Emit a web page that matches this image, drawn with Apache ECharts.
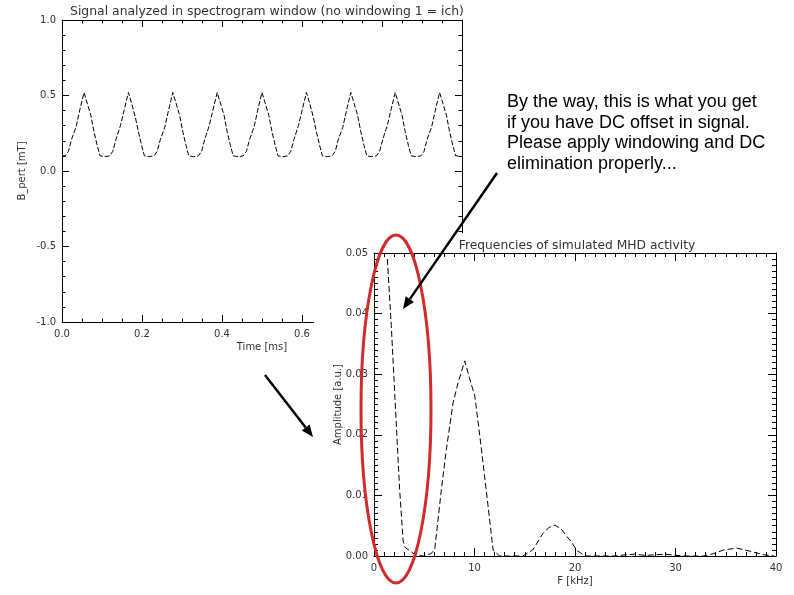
<!DOCTYPE html>
<html>
<head>
<meta charset="utf-8">
<script src="https://cdn.jsdelivr.net/npm/echarts@6/dist/echarts.min.js"></script>
<style>
  html, body { margin: 0; padding: 0; background: #fff; }
  #top, #overlay { position: absolute; left: 0; top: 0; width: 794px; height: 595px; }
  #bottom { position: absolute; left: 314px; top: 233px; width: 480px; height: 362px; background: #fff; }
</style>
</head>
<body>
<div id="top"></div>
<div id="bottom"></div>
<div id="overlay"></div>
<script>
// signal in the spectrogram window
const timeMs = [
  0.000, 0.008, 0.016, 0.024, 0.035, 0.045, 0.055, 0.063, 0.072, 0.080, 0.088, 0.095, 0.107,
  0.119, 0.127, 0.135, 0.146, 0.156, 0.166, 0.174, 0.183, 0.191, 0.199, 0.206, 0.218,
  0.230, 0.238, 0.246, 0.257, 0.267, 0.277, 0.285, 0.294, 0.302, 0.310, 0.317, 0.329,
  0.341, 0.349, 0.357, 0.368, 0.378, 0.388, 0.396, 0.405, 0.413, 0.421, 0.428, 0.440,
  0.453, 0.461, 0.469, 0.480, 0.490, 0.500, 0.508, 0.517, 0.525, 0.533, 0.540, 0.552,
  0.564, 0.572, 0.580, 0.591, 0.601, 0.611, 0.619, 0.628, 0.636, 0.644, 0.651, 0.663,
  0.675, 0.683, 0.691, 0.702, 0.712, 0.722, 0.730, 0.739, 0.747, 0.755, 0.762, 0.774,
  0.786, 0.794, 0.802, 0.813, 0.823, 0.833, 0.841, 0.850, 0.858, 0.866, 0.873, 0.885,
  0.897, 0.905, 0.913, 0.924, 0.934, 0.944, 0.952, 0.961, 0.969, 0.977, 0.984, 0.996
];
const signal = [
  0.10, 0.10, 0.13, 0.21, 0.29, 0.41, 0.52, 0.45, 0.37, 0.26, 0.17, 0.10, 0.095,
  0.10, 0.13, 0.21, 0.30, 0.41, 0.52, 0.45, 0.36, 0.26, 0.17, 0.10, 0.095,
  0.10, 0.13, 0.21, 0.29, 0.41, 0.52, 0.45, 0.37, 0.26, 0.17, 0.10, 0.095,
  0.10, 0.13, 0.21, 0.30, 0.41, 0.52, 0.45, 0.37, 0.26, 0.17, 0.10, 0.095,
  0.10, 0.13, 0.21, 0.29, 0.41, 0.52, 0.45, 0.37, 0.26, 0.17, 0.10, 0.095,
  0.10, 0.13, 0.21, 0.30, 0.41, 0.52, 0.45, 0.36, 0.26, 0.17, 0.10, 0.095,
  0.10, 0.13, 0.21, 0.29, 0.41, 0.52, 0.45, 0.37, 0.26, 0.17, 0.10, 0.095,
  0.10, 0.13, 0.21, 0.30, 0.41, 0.52, 0.45, 0.37, 0.26, 0.17, 0.10, 0.095,
  0.10, 0.13, 0.21, 0.29, 0.41, 0.52, 0.45, 0.37, 0.26, 0.17, 0.10, 0.10
];

// spectrum
const freqKHz = [
  1.33, 1.72, 2.15, 2.55, 2.9, 3.1, 3.7, 4.1, 4.9, 5.7, 6.05, 6.7, 7.2, 7.87, 8.37, 9.03,
  9.53, 10.03, 10.53, 11.2, 11.85, 12.5, 13.5, 14.8, 15.8, 16.8, 17.4, 18.0, 18.6, 19.2,
  19.6, 20.2, 21.0, 22.0, 24.0, 25.0, 26.0, 27.0, 28.0, 29.0, 30.0, 31.0, 32.8, 33.8,
  34.8, 36.1, 37.4, 38.8, 39.8
];
const amplitude = [
  0.049, 0.038, 0.024, 0.011, 0.0025, 0.0014, 0.0007, 0.0002, 0.0, 0.0004, 0.0012, 0.0109,
  0.0176, 0.0253, 0.0286, 0.0322, 0.0292, 0.0264, 0.0198, 0.0104, 0.001, 0.0, 0.0, 0.0,
  0.001, 0.0037, 0.0047, 0.0051, 0.0045, 0.0032, 0.0024, 0.0009, 0.0, 0.0, 0.0, 0.0002,
  0.0003, 0.0001, 0.0002, 0.0003, 0.0001, 0.0, 0.0, 0.0004, 0.001, 0.0013, 0.0008, 0.0002, 0.0
];

const FONT = 'DejaVu Sans';
const labelStyle = { color: '#333', fontFamily: FONT, fontSize: 10 };

function boxAxes(xMin, xMax, xInt, xMinor, yMin, yMax, yInt, yMinor, xFmt, yFmt, xName, yName, xGap, yGap, tick) {
  const line = { show: true, onZero: false, lineStyle: { color: '#000', width: 1 } };
  const t = { show: true, inside: true, length: tick, lineStyle: { color: '#000' } };
  const mt = (n) => ({ show: true, splitNumber: n, length: tick / 2, lineStyle: { color: '#000' } });
  const nameStyle = { color: '#333', fontFamily: FONT, fontSize: 10 };
  return {
    xAxis: [
      { type: 'value', min: xMin, max: xMax, interval: xInt, axisLine: line, axisTick: t, minorTick: mt(xMinor),
        splitLine: { show: false }, axisLabel: Object.assign({ margin: 7, formatter: xFmt }, labelStyle),
        name: xName, nameLocation: 'middle', nameGap: xGap, nameMoveOverlap: false, nameTextStyle: nameStyle },
      { type: 'value', position: 'top', min: xMin, max: xMax, interval: xInt, axisLine: line, axisTick: t,
        minorTick: mt(xMinor), splitLine: { show: false }, axisLabel: { show: false } }
    ],
    yAxis: [
      { type: 'value', min: yMin, max: yMax, interval: yInt, axisLine: line, axisTick: t, minorTick: mt(yMinor),
        splitLine: { show: false }, axisLabel: Object.assign({ margin: 6, formatter: yFmt }, labelStyle),
        name: yName, nameLocation: 'middle', nameGap: yGap, nameMoveOverlap: false, nameTextStyle: nameStyle },
      { type: 'value', position: 'right', min: yMin, max: yMax, interval: yInt, axisLine: line, axisTick: t,
        minorTick: mt(yMinor), splitLine: { show: false }, axisLabel: { show: false } }
    ]
  };
}

const topAxes = boxAxes(0, 1, 0.2, 4, -1, 1, 0.5, 5,
  (v) => v.toFixed(1), (v) => v.toFixed(1), 'Time [ms]', 'B_pert [mT]', 20, 35, 7);

const topChart = echarts.init(document.getElementById('top'));
topChart.setOption({
  animation: false,
  title: {
    text: 'Signal analyzed in spectrogram window (no windowing 1 = ich)',
    left: 262, top: 1, textAlign: 'center',
    textStyle: { color: '#333', fontFamily: FONT, fontSize: 12.4, fontWeight: 'normal' }
  },
  grid: { left: 62, top: 20, right: 332, bottom: 273 },
  xAxis: topAxes.xAxis,
  yAxis: topAxes.yAxis,
  series: [{
    type: 'line',
    data: timeMs.map((t, i) => [t, signal[i]]),
    showSymbol: false,
    lineStyle: { color: '#000', width: 1, type: [5, 2] }
  }]
});

const bottomAxes = boxAxes(0, 40, 10, 10, 0, 0.05, 0.01, 10,
  (v) => String(v), (v) => v.toFixed(2), 'F [kHz]', 'Amplitude [a.u.]', 20, 31, 8);

const bottomChart = echarts.init(document.getElementById('bottom'));
bottomChart.setOption({
  animation: false,
  title: {
    text: 'Frequencies of simulated MHD activity',
    left: 258, top: 2, textAlign: 'center',
    textStyle: { color: '#333', fontFamily: FONT, fontSize: 12.3, fontWeight: 'normal' }
  },
  grid: { left: 60, top: 20, right: 18, bottom: 39 },
  xAxis: bottomAxes.xAxis,
  yAxis: bottomAxes.yAxis,
  series: [{
    type: 'line',
    data: freqKHz.map((f, i) => [f, amplitude[i]]),
    showSymbol: false,
    lineStyle: { color: '#000', width: 1, type: [6, 3] }
  }]
});

// annotation: note, arrows and the red ellipse
function arrow(x1, y1, x2, y2) {
  const dx = x2 - x1, dy = y2 - y1, len = Math.sqrt(dx * dx + dy * dy);
  const ux = dx / len, uy = dy / len, bx = x2 - ux * 12, by = y2 - uy * 12;
  return [
    { type: 'line', shape: { x1: x1, y1: y1, x2: bx, y2: by }, style: { stroke: '#000', lineWidth: 2.5 } },
    { type: 'polygon', shape: { points: [[x2, y2], [bx - uy * 5, by + ux * 5], [bx + uy * 5, by - ux * 5]] },
      style: { fill: '#000' } }
  ];
}

const overlay = echarts.init(document.getElementById('overlay'));
overlay.setOption({
  animation: false,
  graphic: [
    { type: 'ellipse', shape: { cx: 396, cy: 409, rx: 35, ry: 174 },
      style: { fill: 'none', stroke: '#d22b2b', lineWidth: 3 } },
    ...arrow(497, 173, 403, 309),
    ...arrow(265, 375, 313, 437),
    { type: 'text', x: 507, y: 92,
      style: {
        text: 'By the way, this is what you get\nif you have DC offset in signal.\nPlease apply windowing and DC\nelimination properly...',
        fill: '#000', fontFamily: 'Liberation Sans', fontSize: 18, lineHeight: 20.5, verticalAlign: 'top'
      } }
  ]
});
</script>
</body>
</html>
